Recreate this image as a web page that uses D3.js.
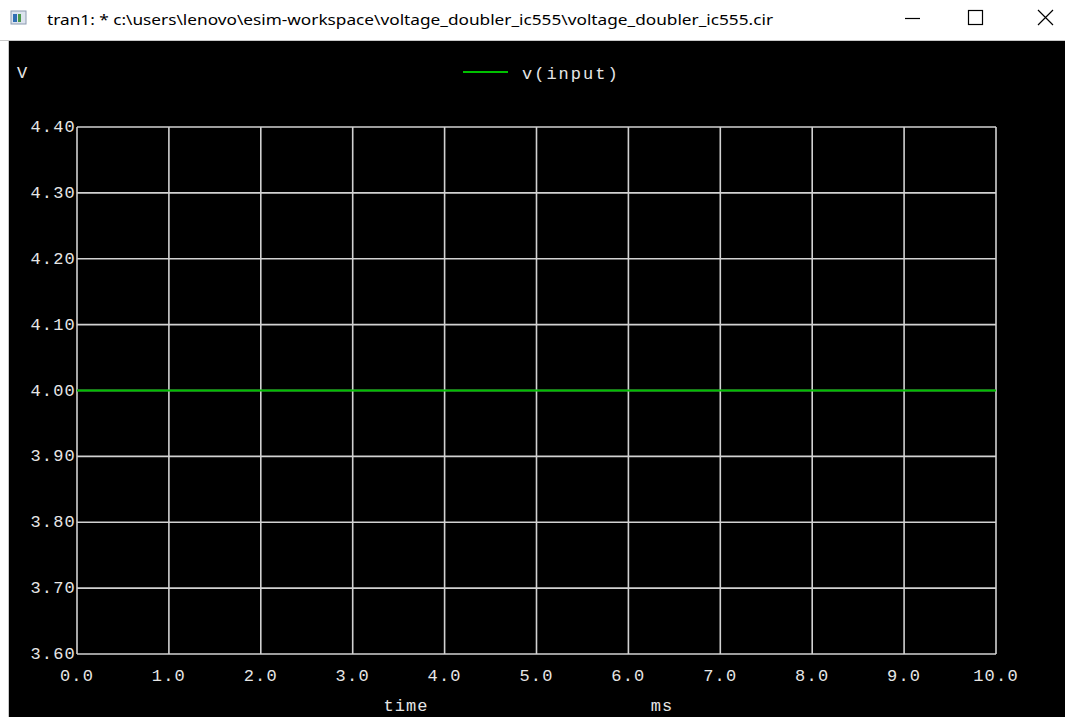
<!DOCTYPE html>
<html><head><meta charset="utf-8">
<script src="https://cdn.jsdelivr.net/npm/d3@7"></script>
<style>html,body{margin:0;padding:0;background:#fff;overflow:hidden}</style>
</head><body>
<svg id="c" width="1065" height="717"></svg>
<script>
const titleText = "tran1: * c:\\users\\lenovo\\esim-workspace\\voltage_doubler_ic555\\voltage_doubler_ic555.cir";
const timeMs = [0,1,2,3,4,5,6,7,8,9,10];
const vInput = [4.0,4.0,4.0,4.0,4.0,4.0,4.0,4.0,4.0,4.0,4.0];
const xTicks = [0,1,2,3,4,5,6,7,8,9,10];
const yTicks = [3.6,3.7,3.8,3.9,4.0,4.1,4.2,4.3,4.4];
const seriesName = "v(input)";
const yUnit = "V", xLabel = "time", xUnit = "ms";

const svg = d3.select("#c");
// window chrome
svg.append("rect").attr("x",0).attr("y",0).attr("width",1065).attr("height",717).attr("fill","#fff");
svg.append("rect").attr("x",9).attr("y",41).attr("width",1056).attr("height",676).attr("fill","#000");
svg.append("line").attr("x1",0).attr("x2",1065).attr("y1",40.5).attr("y2",40.5).attr("stroke","#c8c8c8");
svg.append("line").attr("x1",8.5).attr("x2",8.5).attr("y1",41).attr("y2",717).attr("stroke","#c8c8c8");
// icon
const ic = svg.append("g").attr("transform","translate(11,11)");
ic.append("rect").attr("width",15).attr("height",13).attr("fill","#dde4ee").attr("stroke","#8a9ab0");
ic.append("rect").attr("x",2).attr("y",3).attr("width",4).attr("height",8).attr("fill","#2f6fb3");
ic.append("rect").attr("x",7).attr("y",3).attr("width",3).attr("height",8).attr("fill","#4a9a4a");
svg.append("text").attr("x",47).attr("y",25).attr("font-family","Noto Sans, sans-serif").attr("font-size",15)
  .attr("textLength",726).attr("lengthAdjust","spacingAndGlyphs").attr("fill","#000").text(titleText);
// window buttons
svg.append("line").attr("x1",905).attr("x2",920).attr("y1",18.5).attr("y2",18.5).attr("stroke","#000").attr("stroke-width",1.2);
svg.append("rect").attr("x",968.5).attr("y",10.5).attr("width",14).attr("height",14).attr("fill","none").attr("stroke","#000").attr("stroke-width",1.2);
svg.append("path").attr("d","M1038,10L1053,25M1053,10L1038,25").attr("stroke","#000").attr("stroke-width",1.2);

const L=77,R=996,T=127,B=654;
const x = d3.scaleLinear().domain([0,10]).range([L,R]);
const y = d3.scaleLinear().domain([3.6,4.4]).range([B,T]);
const grid="#d2d2d2", txt="#e6e6e6", font="Liberation Mono, DejaVu Sans Mono, monospace";

const g = svg.append("g");
g.selectAll("line.vx").data(xTicks).join("line").attr("x1",d=>x(d)).attr("x2",d=>x(d)).attr("y1",T).attr("y2",B)
  .attr("stroke",grid).attr("stroke-width",1.6);
g.selectAll("line.hy").data(yTicks).join("line").attr("x1",L).attr("x2",R).attr("y1",d=>y(d)).attr("y2",d=>y(d))
  .attr("stroke",grid).attr("stroke-width",1.6);

g.selectAll("text.yt").data(yTicks).join("text").attr("x",L-1).attr("y",d=>y(d)+5).attr("text-anchor","end")
  .attr("font-family",font).attr("font-size",17).attr("letter-spacing",1.2).attr("fill",txt).text(d=>d.toFixed(2));
g.selectAll("text.xt").data(xTicks).join("text").attr("x",d=>x(d)).attr("y",681).attr("text-anchor","middle")
  .attr("font-family",font).attr("font-size",17).attr("letter-spacing",1.2).attr("fill",txt).text(d=>d.toFixed(1));

svg.append("text").attr("x",22).attr("y",78).attr("text-anchor","middle").attr("font-family",font).attr("font-size",17).attr("fill",txt).text(yUnit);
svg.append("text").attr("x",406).attr("y",711).attr("text-anchor","middle").attr("font-family",font).attr("font-size",17).attr("letter-spacing",1).attr("fill",txt).text(xLabel);
svg.append("text").attr("x",662).attr("y",711).attr("text-anchor","middle").attr("font-family",font).attr("font-size",17).attr("letter-spacing",1).attr("fill",txt).text(xUnit);

// legend
svg.append("line").attr("x1",463).attr("x2",508).attr("y1",72).attr("y2",72).attr("stroke","#00c000").attr("stroke-width",2);
svg.append("text").attr("x",522).attr("y",79).attr("font-family",font).attr("font-size",17).attr("letter-spacing",2).attr("fill",txt).text(seriesName);

const line = d3.line().x((d,i)=>x(timeMs[i])).y(d=>y(d));
svg.append("path").datum(vInput).attr("d",line).attr("fill","none").attr("stroke","#00c000").attr("stroke-width",2);
</script>
</body></html>
